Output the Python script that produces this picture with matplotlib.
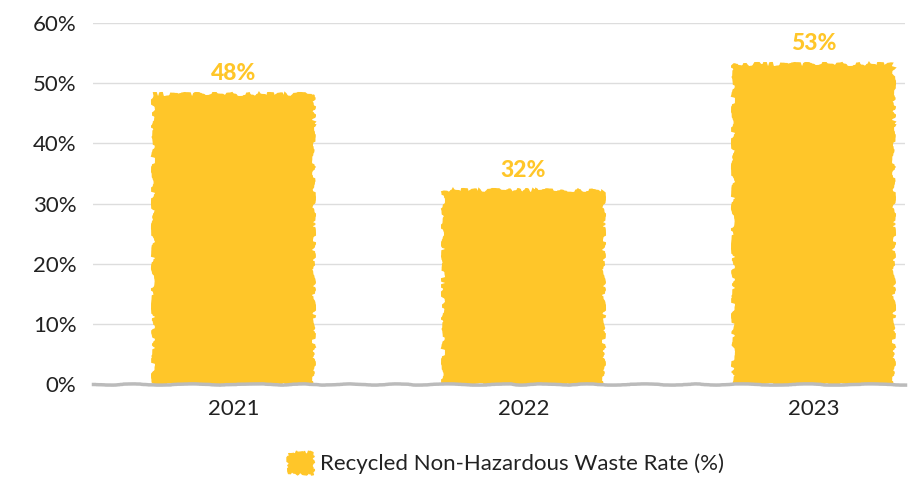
import numpy as np
import matplotlib
matplotlib.use('Agg')
import matplotlib.pyplot as plt
from matplotlib.patches import Patch

years = ['2021', '2022', '2023']
rates = [48, 32, 53]
value_labels = ['48%', '32%', '53%']
series_name = 'Recycled Non-Hazardous Waste Rate (%)'

yellow = '#FFC629'

plt.rcParams['font.family'] = ['Lato', 'DejaVu Sans']

fig = plt.figure(figsize=(9.13, 4.79), dpi=100)
ax = fig.add_axes([93 / 913, 95 / 479, 812 / 913, 361 / 479])

x = np.arange(len(years))
bars = ax.bar(x, rates, width=0.55, color=yellow, edgecolor=yellow,
              linewidth=1.5, zorder=3)
for b in bars:
    b.set_sketch_params(scale=2, length=60, randomness=30)

# value labels above bars
for xi, v, lab in zip(x, rates, value_labels):
    ax.text(xi, v + 1.8, lab, ha='center', va='bottom', color=yellow,
            fontsize=16.5, fontweight='black')

ax.set_xlim(-0.485, 2.316)
ax.set_ylim(0, 60)
ax.set_yticks(range(0, 61, 10))
ax.set_yticklabels([f'{t}%' for t in range(0, 61, 10)])
ax.set_xticks(x)
ax.set_xticklabels(years)
ax.tick_params(axis='both', length=0, labelsize=16, colors='#222222')
ax.tick_params(axis='x', pad=11)
ax.tick_params(axis='y', pad=12)
ax.grid(axis='y', color='#dddddd', linewidth=1, zorder=0)
for s in ['top', 'right', 'left']:
    ax.spines[s].set_visible(False)
ax.spines['bottom'].set_color('#bbbbbb')
ax.spines['bottom'].set_linewidth(2.5)
ax.spines['bottom'].set_zorder(4)
ax.spines['bottom'].set_sketch_params(scale=0.6, length=120, randomness=10)

handle = Patch(facecolor=yellow, edgecolor=yellow)
handle.set_sketch_params(scale=1.5, length=10, randomness=20)
fig.legend([handle], [series_name], loc='center', bbox_to_anchor=(506 / 913, 1 - 463 / 479),
           frameon=False, fontsize=16, handlelength=1.1, handleheight=1.1,
           handletextpad=0.3, labelcolor='#222222')

fig.savefig('out.png', dpi=100)
